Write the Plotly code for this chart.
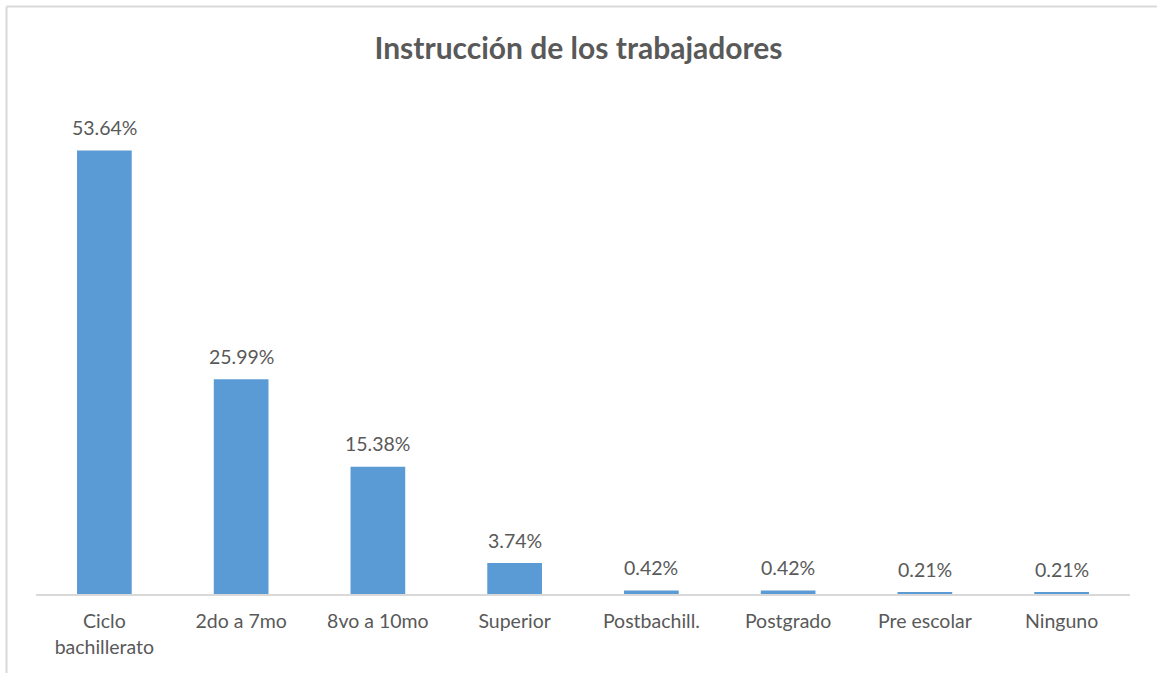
import plotly.graph_objects as go

categories = ["Ciclo<br>bachillerato", "2do a 7mo", "8vo a 10mo", "Superior",
              "Postbachill.", "Postgrado", "Pre escolar", "Ninguno"]
percentages = [53.64, 25.99, 15.38, 3.74, 0.42, 0.42, 0.21, 0.21]
value_labels = [f"{v:.2f}%" for v in percentages]

W, H = 1157, 673
ML, MR, MT, MB = 36, 27, 98, 79
Y_MAX = 60

FONT = "Lato, 'Open Sans', sans-serif"
TEXT_GRAY = "#595959"
BORDER = "#D9D9D9"

fig = go.Figure(go.Bar(
    x=categories,
    y=percentages,
    marker=dict(color="#5B9BD5", line=dict(width=0)),
    hoverinfo="x+y",
))

# value labels sitting above each bar
for cat, val, lab in zip(categories, percentages, value_labels):
    fig.add_annotation(
        x=cat, y=val, text=lab, showarrow=False,
        xanchor="center", yanchor="middle", yshift=23,
        font=dict(family=FONT, size=19.5, color=TEXT_GRAY),
    )

# chart frame: only the top and left edges fall inside the canvas
pw, ph = W - ML - MR, H - MT - MB
def px(x):
    return (x - ML) / pw
def py(y):
    return (H - MB - y) / ph

fig.add_shape(type="line", xref="paper", yref="paper",
              x0=px(6.5), x1=px(W + 5), y0=py(6.5), y1=py(6.5),
              line=dict(color=BORDER, width=2))
fig.add_shape(type="line", xref="paper", yref="paper",
              x0=px(6.5), x1=px(6.5), y0=py(6.5), y1=py(H + 5),
              line=dict(color=BORDER, width=2))

fig.update_layout(
    width=W, height=H,
    margin=dict(l=ML, r=MR, t=MT, b=MB),
    paper_bgcolor="white",
    plot_bgcolor="white",
    bargap=0.6,
    showlegend=False,
    title=dict(
        text="<b>Instrucción de los trabajadores</b>",
        x=0.5, xanchor="center",
        y=1 - 48 / H, yanchor="middle",
        font=dict(family=FONT, size=30, color=TEXT_GRAY),
    ),
    xaxis=dict(
        showline=True, linecolor=BORDER, linewidth=1.5,
        ticks="", showgrid=False, ticklabelstandoff=9,
        tickfont=dict(family=FONT, size=19.5, color=TEXT_GRAY),
    ),
    yaxis=dict(
        range=[0, Y_MAX], visible=False, showgrid=False, zeroline=False,
    ),
)

fig.write_html("out.html")
